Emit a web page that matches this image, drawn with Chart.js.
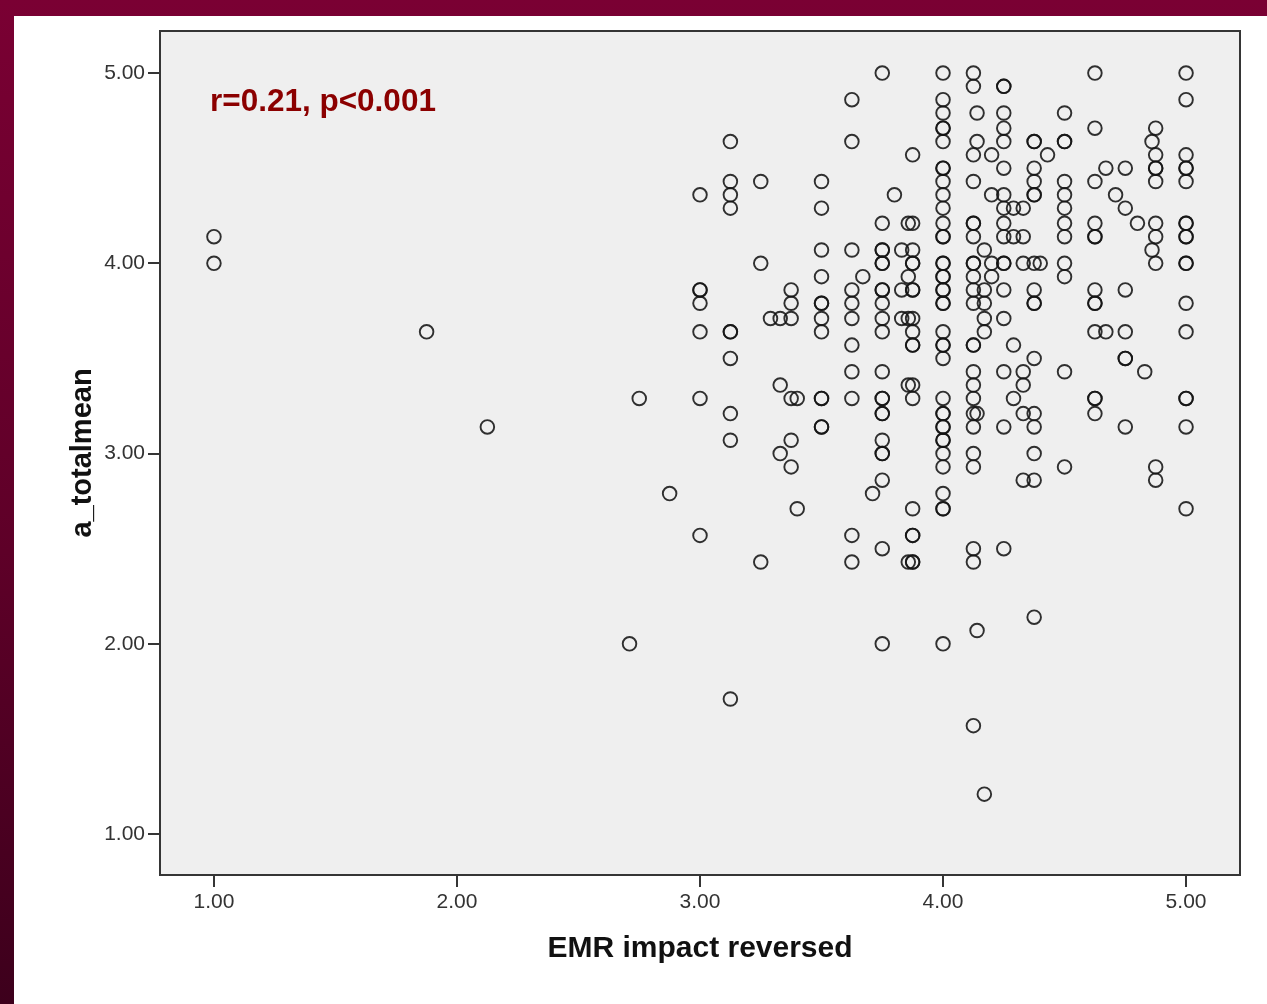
<!DOCTYPE html>
<html>
<head>
<meta charset="utf-8">
<script src="https://cdn.jsdelivr.net/npm/chart.js@4.4.1/dist/chart.umd.min.js"></script>
<style>
  html, body { margin: 0; padding: 0; }
  body {
    width: 1267px; height: 1004px; overflow: hidden; position: relative;
    background: linear-gradient(180deg, #7a0033 0%, #5e0028 55%, #3d001c 100%);
  }
  #panel { position: absolute; left: 14px; top: 16px; right: 0; bottom: 0; background: #fff; }
  #scatterChart { position: absolute; left: 0; top: 0; }
</style>
</head>
<body>
<div id="panel"></div>
<canvas id="scatterChart" width="1267" height="1004"></canvas>
<script>
// EMR impact reversed (x) against a_totalmean (y), one entry per respondent
const emrImpact = [
  1.00, 1.00,
  1.875, 2.125, 2.71, 2.75, 2.875,
  3.00, 3.00, 3.00, 3.00, 3.00, 3.00, 3.00,
  3.125, 3.125, 3.125, 3.125, 3.125, 3.125, 3.125, 3.125, 3.125, 3.125,
  3.25, 3.25, 3.25,
  3.29, 3.33, 3.33, 3.33,
  3.375, 3.375, 3.375, 3.375, 3.375, 3.375,
  3.40, 3.40,
  3.50, 3.50, 3.50, 3.50, 3.50, 3.50, 3.50, 3.50, 3.50, 3.50, 3.50, 3.50,
  3.625, 3.625, 3.625, 3.625, 3.625, 3.625, 3.625, 3.625, 3.625, 3.625, 3.625,
  3.67, 3.71,
  3.75, 3.75, 3.75, 3.75, 3.75, 3.75, 3.75, 3.75, 3.75, 3.75, 3.75,
  3.75, 3.75, 3.75, 3.75, 3.75, 3.75, 3.75, 3.75, 3.75, 3.75, 3.75,
  3.80, 3.83, 3.83, 3.83,
  3.857, 3.857, 3.857, 3.857, 3.857,
  3.875, 3.875, 3.875, 3.875, 3.875, 3.875, 3.875, 3.875, 3.875,
  3.875, 3.875, 3.875, 3.875, 3.875, 3.875, 3.875, 3.875, 3.875,
  4.00, 4.00, 4.00, 4.00, 4.00, 4.00, 4.00, 4.00, 4.00, 4.00, 4.00, 4.00, 4.00,
  4.00, 4.00, 4.00, 4.00, 4.00, 4.00, 4.00, 4.00, 4.00, 4.00, 4.00, 4.00, 4.00,
  4.00, 4.00, 4.00, 4.00, 4.00, 4.00, 4.00, 4.00, 4.00, 4.00, 4.00, 4.00, 4.00,
  4.125, 4.125, 4.125, 4.125, 4.125, 4.125, 4.125, 4.125, 4.125, 4.125, 4.125, 4.125,
  4.125, 4.125, 4.125, 4.125, 4.125, 4.125, 4.125, 4.125, 4.125, 4.125, 4.125, 4.125,
  4.14, 4.14, 4.14, 4.14,
  4.17, 4.17, 4.17, 4.17, 4.17, 4.17,
  4.20, 4.20, 4.20, 4.20,
  4.25, 4.25, 4.25, 4.25, 4.25, 4.25, 4.25, 4.25, 4.25,
  4.25, 4.25, 4.25, 4.25, 4.25, 4.25, 4.25, 4.25,
  4.29, 4.29, 4.29, 4.29,
  4.33, 4.33, 4.33, 4.33, 4.33, 4.33, 4.33,
  4.375, 4.375, 4.375, 4.375, 4.375, 4.375, 4.375, 4.375,
  4.375, 4.375, 4.375, 4.375, 4.375, 4.375, 4.375, 4.375,
  4.40, 4.43,
  4.50, 4.50, 4.50, 4.50, 4.50, 4.50, 4.50, 4.50, 4.50, 4.50, 4.50, 4.50,
  4.625, 4.625, 4.625, 4.625, 4.625, 4.625, 4.625, 4.625, 4.625, 4.625, 4.625, 4.625, 4.625,
  4.67, 4.67, 4.71,
  4.75, 4.75, 4.75, 4.75, 4.75, 4.75, 4.75,
  4.80, 4.83, 4.86, 4.86,
  4.875, 4.875, 4.875, 4.875, 4.875, 4.875, 4.875, 4.875, 4.875, 4.875,
  5.00, 5.00, 5.00, 5.00, 5.00, 5.00, 5.00, 5.00, 5.00,
  5.00, 5.00, 5.00, 5.00, 5.00, 5.00, 5.00, 5.00, 5.00
];

const totalMean = [
  4.14, 4.00,
  3.64, 3.14, 2.00, 3.29, 2.79,
  4.36, 3.86, 3.86, 3.79, 3.64, 3.29, 2.57,
  4.64, 4.43, 4.36, 4.29, 3.64, 3.64, 3.50, 3.21, 3.07, 1.71,
  4.43, 4.00, 2.43,
  3.71, 3.71, 3.36, 3.00,
  3.86, 3.79, 3.71, 3.29, 3.07, 2.93,
  3.29, 2.71,
  4.43, 4.29, 4.07, 3.93, 3.79, 3.79, 3.71, 3.64, 3.29, 3.29, 3.14, 3.14,
  4.86, 4.64, 4.07, 3.86, 3.79, 3.71, 3.57, 3.43, 3.29, 2.57, 2.43,
  3.93, 2.79,
  5.00, 4.21, 4.07, 4.07, 4.00, 4.00, 3.86, 3.86, 3.79, 3.71, 3.64,
  3.43, 3.29, 3.29, 3.21, 3.21, 3.07, 3.00, 3.00, 2.86, 2.50, 2.00,
  4.36, 4.07, 3.86, 3.71,
  4.21, 3.93, 3.71, 3.36, 2.43,
  4.57, 4.21, 4.07, 4.00, 4.00, 3.86, 3.86, 3.71, 3.64,
  3.57, 3.57, 3.36, 3.29, 2.71, 2.57, 2.57, 2.43, 2.43,
  5.00, 4.86, 4.79, 4.71, 4.71, 4.64, 4.50, 4.50, 4.43, 4.36, 4.29, 4.21, 4.14,
  4.14, 4.00, 4.00, 3.93, 3.93, 3.86, 3.86, 3.79, 3.79, 3.64, 3.57, 3.57, 3.50,
  3.29, 3.21, 3.21, 3.14, 3.14, 3.07, 3.07, 3.00, 2.93, 2.79, 2.71, 2.71, 2.00,
  5.00, 4.93, 4.57, 4.43, 4.21, 4.21, 4.14, 4.00, 4.00, 3.93, 3.86, 3.79,
  3.57, 3.57, 3.43, 3.36, 3.29, 3.21, 3.14, 3.00, 2.93, 2.50, 2.43, 1.57,
  4.79, 4.64, 3.21, 2.07,
  4.07, 3.86, 3.79, 3.71, 3.64, 1.21,
  4.57, 4.36, 4.00, 3.93,
  4.93, 4.93, 4.79, 4.71, 4.64, 4.50, 4.36, 4.29, 4.21,
  4.14, 4.00, 4.00, 3.86, 3.71, 3.43, 3.14, 2.50,
  4.29, 4.14, 3.57, 3.29,
  4.29, 4.14, 4.00, 3.43, 3.36, 3.21, 2.86,
  4.64, 4.64, 4.50, 4.43, 4.36, 4.36, 4.00, 3.86,
  3.79, 3.79, 3.50, 3.21, 3.14, 3.00, 2.86, 2.14,
  4.00, 4.57,
  4.79, 4.64, 4.64, 4.43, 4.36, 4.29, 4.21, 4.14, 4.00, 3.93, 3.43, 2.93,
  5.00, 4.71, 4.43, 4.21, 4.14, 4.14, 3.86, 3.79, 3.79, 3.64, 3.29, 3.29, 3.21,
  4.50, 3.64, 4.36,
  4.50, 4.29, 3.86, 3.64, 3.50, 3.50, 3.14,
  4.21, 3.43, 4.64, 4.07,
  4.71, 4.57, 4.50, 4.50, 4.43, 4.21, 4.14, 4.00, 2.93, 2.86,
  5.00, 4.86, 4.57, 4.50, 4.50, 4.43, 4.21, 4.21, 4.14,
  4.14, 4.00, 4.00, 3.79, 3.64, 3.29, 3.29, 3.14, 2.71
];

const axisTicks = [1, 2, 3, 4, 5];
const xTitle = "EMR impact reversed";
const yTitle = "a_totalmean";
const statsNote = "r=0.21, p<0.001";

const FONT = "'Liberation Sans', Arial, sans-serif";

const points = emrImpact.map((x, i) => ({ x: x, y: totalMean[i] }));

// grey plot panel behind the markers, dark frame and the stats note on top
const panelPlugin = {
  id: "panel",
  beforeDraw: (chart) => {
    const { ctx, chartArea: a } = chart;
    ctx.save();
    ctx.fillStyle = "#efefef";
    ctx.fillRect(a.left, a.top, a.right - a.left, a.bottom - a.top);
    ctx.restore();
  },
  afterDraw: (chart) => {
    const { ctx, chartArea: a } = chart;
    ctx.save();
    ctx.strokeStyle = "#353535";
    ctx.lineWidth = 2;
    ctx.strokeRect(a.left, a.top, a.right - a.left, a.bottom - a.top);
    ctx.fillStyle = "#8b0000";
    ctx.font = "bold 31.5px " + FONT;
    ctx.textBaseline = "alphabetic";
    ctx.fillText(statsNote, a.left + 50, a.top + 80);
    ctx.restore();
  },
};

const fixedTicks = (axis) => {
  axis.ticks = axisTicks.map((v) => ({ value: v }));
};

const tickGrid = {
  drawOnChartArea: false,
  drawTicks: true,
  tickLength: 12,
  color: "#353535",
  lineWidth: 2,
};

const ctx = document.getElementById("scatterChart").getContext("2d");
const scatterChart = new Chart(ctx, {
  type: "scatter",
  data: {
    datasets: [
      {
        data: points,
        pointStyle: "circle",
        pointRadius: 6.8,
        pointBorderWidth: 1.9,
        pointBorderColor: "rgba(20,20,20,0.88)",
        pointBackgroundColor: "rgba(0,0,0,0)",
      },
    ],
  },
  options: {
    responsive: false,
    animation: false,
    devicePixelRatio: 1,
    layout: { padding: { left: 0, top: 31, right: 27, bottom: 0 } },
    scales: {
      x: {
        type: "linear",
        position: "bottom",
        min: 0.778,
        max: 5.222,
        afterBuildTicks: fixedTicks,
        afterFit: (scale) => { scale.height = 129; },
        grid: tickGrid,
        border: { display: false },
        ticks: {
          padding: 3,
          maxRotation: 0,
          autoSkip: false,
          color: "#333",
          font: { family: FONT, size: 21 },
          callback: (v) => Number(v).toFixed(2),
        },
        title: {
          display: true,
          text: xTitle,
          color: "#111",
          font: { family: FONT, size: 30, weight: "bold" },
          padding: { top: 0, bottom: 37 },
        },
      },
      y: {
        type: "linear",
        position: "left",
        min: 0.785,
        max: 5.221,
        afterBuildTicks: fixedTicks,
        afterFit: (scale) => { scale.width = 160; },
        grid: tickGrid,
        border: { display: false },
        ticks: {
          padding: 3,
          autoSkip: false,
          color: "#333",
          font: { family: FONT, size: 21 },
          callback: (v) => Number(v).toFixed(2),
        },
        title: {
          display: true,
          text: yTitle,
          color: "#111",
          font: { family: FONT, size: 29, weight: "bold" },
          padding: { top: 66, bottom: 0 },
        },
      },
    },
    plugins: {
      legend: { display: false },
      tooltip: { enabled: false },
    },
  },
  plugins: [panelPlugin],
});
</script>
</body>
</html>
